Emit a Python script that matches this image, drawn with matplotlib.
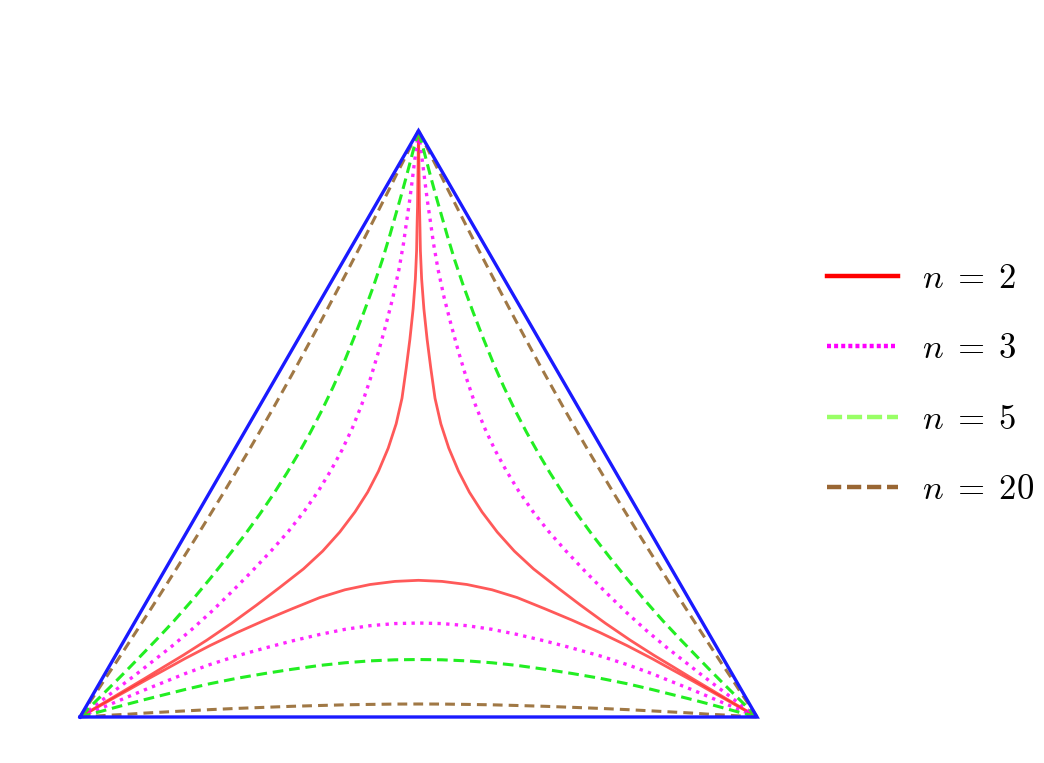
import numpy as np
import matplotlib
matplotlib.use("Agg")
import matplotlib.pyplot as plt
from matplotlib.lines import Line2D

plt.rcParams['mathtext.fontset'] = 'cm'

# Triangle vertices (side = 1)
tri_x = [0.0, 1.0, 0.5, 0.0]
tri_y = [0.0, 0.0, np.sqrt(3) / 2, 0.0]

# Bottom-edge curve samples (left half, symmetric about u = 0.5)
u_pts = [0.0, 0.0222, 0.0458, 0.0709, 0.0960, 0.1256, 0.1551, 0.1920,
         0.2319, 0.2733, 0.3132, 0.3545, 0.3914, 0.4284, 0.4653, 0.5]
h_n2 = [0.0, 0.0124, 0.0257, 0.0397, 0.0538, 0.0700, 0.0863, 0.1055,
        0.1247, 0.1431, 0.1598, 0.1765, 0.1879, 0.1957, 0.2003, 0.2019]
h_n3 = [0.0, 0.0093, 0.0192, 0.0298, 0.0403, 0.0521, 0.0640, 0.0775,
        0.0903, 0.1019, 0.1123, 0.1220, 0.1295, 0.1349, 0.1380, 0.1388]
h_n5 = [0.0, 0.0059, 0.0124, 0.0192, 0.0258, 0.0332, 0.0406, 0.0492,
        0.0572, 0.0643, 0.0705, 0.0762, 0.0801, 0.0829, 0.0845, 0.0849]
h_n20 = [0.0, 0.0013, 0.0028, 0.0041, 0.0058, 0.0074, 0.0090, 0.0109,
         0.0127, 0.0143, 0.0158, 0.0170, 0.0180, 0.0186, 0.0191, 0.0192]

labels = [r'$n\;=\;2$', r'$n\;=\;3$', r'$n\;=\;5$', r'$n\;=\;20$']

fig = plt.figure(figsize=(10.44, 7.63), dpi=100)
W, H = 1044, 763
scale = 677.0
x0, x1 = -0.05, 1.05
y0, y1 = -0.05, 0.92
left_px = 80 - (0 - x0) * scale
bottom_px = (H - 717) - (0 - y0) * scale
ax = fig.add_axes([left_px / W, bottom_px / H, (x1 - x0) * scale / W, (y1 - y0) * scale / H])
ax.set_xlim(x0, x1)
ax.set_ylim(y0, y1)
ax.axis('off')

G = np.array([0.5, np.sqrt(3) / 6])


def full_curve(h):
    u = np.array(u_pts)
    hh = np.array(h)
    uu = np.concatenate([u, 1 - u[::-1][1:]])
    vv = np.concatenate([hh, hh[::-1][1:]])
    return uu, vv


def rotate(x, y, ang):
    c, s = np.cos(ang), np.sin(ang)
    dx, dy = x - G[0], y - G[1]
    return G[0] + c * dx - s * dy, G[1] + s * dx + c * dy


styles = [
    dict(h=h_n2, color='#ff3030', lw=2.0, ls='-', alpha=0.8),
    dict(h=h_n3, color='#ff00ff', lw=2.4, ls=(0, (1, 1.6)), alpha=0.85),
    dict(h=h_n5, color='#22ee22', lw=2.2, ls=(0, (3.5, 1.9)), alpha=1.0),
    dict(h=h_n20, color='#a07845', lw=2.2, ls=(0, (3.2, 2.0)), alpha=1.0),
]

for st in styles:
    ux, vy = full_curve(st['h'])
    for ang in [0, 2 * np.pi / 3, -2 * np.pi / 3]:
        xx, yy = rotate(ux, vy, ang)
        ax.plot(xx, yy, color=st['color'], lw=st['lw'], ls=st['ls'], alpha=st['alpha'],
                solid_capstyle='butt', dash_capstyle='butt', solid_joinstyle='round')

ax.plot(tri_x, tri_y, color='#1a1aff', lw=2.4, solid_joinstyle='miter')

handles = [
    Line2D([], [], color='#ff0000', lw=3.2, ls='-'),
    Line2D([], [], color='#ff00ff', lw=3.2, ls=(0, (0.9, 0.7))),
    Line2D([], [], color='#99ff66', lw=3.2, ls=(0, (3.4, 1.1))),
    Line2D([], [], color='#996633', lw=3.2, ls=(0, (3.2, 1.3))),
]
fig.legend(handles, labels, loc='upper left', bbox_to_anchor=(813 / W, 1 - 247 / H),
           frameon=False, fontsize=25, handlelength=2.05, handletextpad=0.69,
           labelspacing=1.05, borderaxespad=0)

fig.savefig('out.png', dpi=100)
